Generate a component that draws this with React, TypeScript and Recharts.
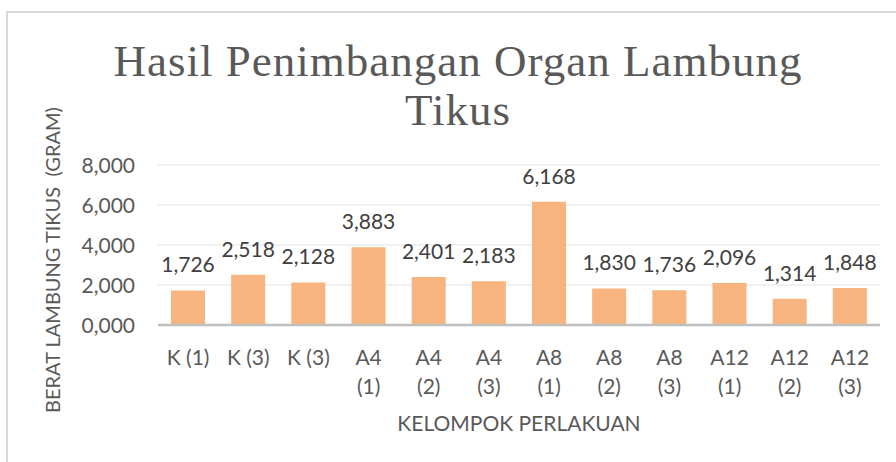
import React from 'react';
import { BarChart, Bar, XAxis, YAxis, CartesianGrid, LabelList } from 'recharts';

const categories = ['K (1)', 'K (3)', 'K (3)', 'A4 (1)', 'A4 (2)', 'A4 (3)', 'A8 (1)', 'A8 (2)', 'A8 (3)', 'A12 (1)', 'A12 (2)', 'A12 (3)'];
const weights = [1.726, 2.518, 2.128, 3.883, 2.401, 2.183, 6.168, 1.83, 1.736, 2.096, 1.314, 1.848];
const yTicks = [0, 2, 4, 6, 8];
const titleLines = ['Hasil Penimbangan Organ Lambung', 'Tikus'];
const yTitle = 'BERAT LAMBUNG TIKUS  (GRAM)';
const xTitle = 'KELOMPOK PERLAKUAN';

const data = categories.map((c, i) => ({ name: c, value: weights[i] }));

const fmt = (v: number) => v.toFixed(3).replace('.', ',');
const FONT = 'Lato, "Open Sans", sans-serif';

const YTick = (props: any) => {
  const { y, payload } = props;
  return (
    <text x={135} y={y} dy={7.5} textAnchor="end" fill="#595959" fontSize={21} fontFamily={FONT}>
      {fmt(payload.value)}
    </text>
  );
};

const XTick = (props: any) => {
  const { x, payload } = props;
  const label: string = payload.value;
  const lines = label.startsWith('K') ? [label] : label.split(' ');
  return (
    <g>
      {lines.map((l, i) => (
        <text key={i} x={x} y={365 + i * 29} textAnchor="middle" fill="#595959" fontSize={21} fontFamily={FONT}>
          {l}
        </text>
      ))}
    </g>
  );
};

const ValueLabel = (props: any) => {
  const { x, y, width, value } = props;
  return (
    <text x={x + width / 2} y={y - 18} textAnchor="middle" fill="#404040" fontSize={21} fontFamily={FONT}>
      {fmt(value)}
    </text>
  );
};

export default function App() {
  return (
    <div style={{ position: 'absolute', left: 0, top: 0, width: 896, height: 462, overflow: 'hidden', background: '#fff' }}>
      <div style={{ position: 'absolute', left: 6, top: 11, width: 900, height: 470, border: '2px solid #D9D9D9', boxSizing: 'border-box' }} />
      <svg width={896} height={140} style={{ position: 'absolute', left: 0, top: 0 }}>
        {titleLines.map((t, i) => (
          <text key={i} x={458} y={76 + i * 49} textAnchor="middle" fill="#595959" fontSize={45} letterSpacing={1} fontFamily='"Liberation Serif", serif'>
            {t}
          </text>
        ))}
      </svg>
      <div style={{ position: 'absolute', left: 0, top: 0 }}>
        <BarChart width={896} height={462} data={data} margin={{ top: 165, right: 16, left: 0, bottom: 0 }} barSize={34}>
          <CartesianGrid vertical={false} stroke="#EBEBEB" strokeWidth={1.5} />
          <YAxis width={158} domain={[0, 8]} ticks={yTicks} axisLine={false} tickLine={false} tick={<YTick />} interval={0} />
          <XAxis dataKey="name" height={137} axisLine={{ stroke: '#BFBFBF', strokeWidth: 2.5 }} tickLine={false} tick={<XTick />} interval={0} />
          <Bar dataKey="value" fill="#F7B47E" isAnimationActive={false}>
            <LabelList dataKey="value" content={<ValueLabel />} />
          </Bar>
        </BarChart>
      </div>
      <svg width={896} height={462} style={{ position: 'absolute', left: 0, top: 0, pointerEvents: 'none' }}>
        <text x={53} y={260} transform="rotate(-90 53 260)" dy={7} textAnchor="middle" fill="#595959" fontSize={20} fontFamily={FONT} style={{ whiteSpace: 'pre' }}>
          {yTitle}
        </text>
        <text x={519} y={431} textAnchor="middle" fill="#595959" fontSize={21} fontFamily={FONT}>
          {xTitle}
        </text>
      </svg>
    </div>
  );
}
